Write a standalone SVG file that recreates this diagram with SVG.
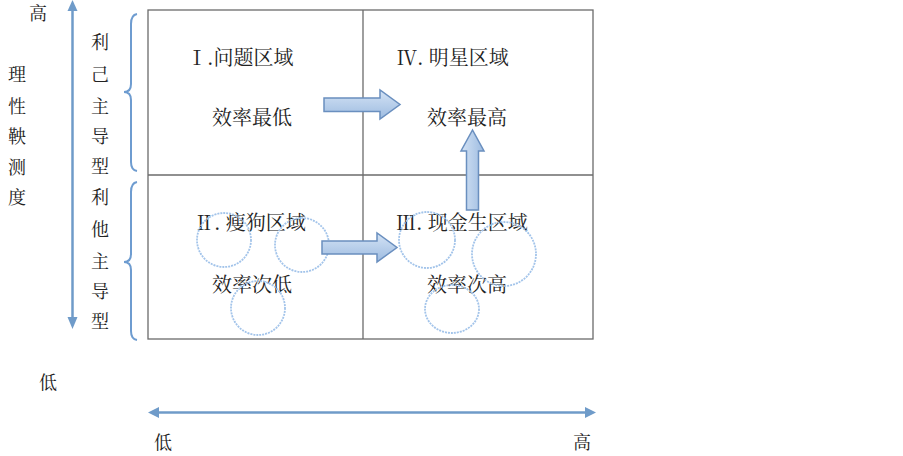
<svg xmlns="http://www.w3.org/2000/svg" width="903" height="456" viewBox="0 0 903 456">
  <style>
    .t { font-family: "Noto Serif CJK SC", "Noto Sans CJK SC", "Liberation Serif", serif; fill: #222; }
    .q { font-size: 20px; }
    .s { font-size: 18px; text-anchor: middle; }
    .grid { stroke: #6b6b6b; stroke-width: 1.3; fill: none; }
    .brace { stroke: #6e9cd0; stroke-width: 2; fill: none; }
    .axis { stroke: #6f9bc9; stroke-width: 2.5; fill: none; }
    .blk { fill: url(#g); stroke: #6a8fbf; stroke-width: 1.5; }
    .cir { fill: none; stroke: #a3c4ea; stroke-width: 1.8; stroke-dasharray: 2 1; }
  </style>
  <defs>
    <linearGradient id="g" x1="0" y1="0" x2="0" y2="1">
      <stop offset="0" stop-color="#d4e3f5"/>
      <stop offset="1" stop-color="#9dbbe0"/>
    </linearGradient>
    <linearGradient id="gv" x1="0" y1="0" x2="1" y2="0">
      <stop offset="0" stop-color="#d4e3f5"/>
      <stop offset="1" stop-color="#9dbbe0"/>
    </linearGradient>
  </defs>

  <g id="grid">
    <rect class="grid" x="148" y="10" width="445" height="329"/>
    <line class="grid" x1="363" y1="10" x2="363" y2="339"/>
    <line class="grid" x1="148" y1="175" x2="593" y2="175"/>
  </g>

  <g id="axes">
    <line class="axis" x1="72.5" y1="10" x2="72.5" y2="318"/>
    <polygon points="72.5,0 67.5,11 77.5,11" fill="#6f9bc9"/>
    <polygon points="72.5,329 67.5,317 77.5,317" fill="#6f9bc9"/>
    <line class="axis" x1="158" y1="412.5" x2="585" y2="412.5"/>
    <polygon points="148,412.5 159,407 159,418" fill="#6f9bc9"/>
    <polygon points="596,412.5 585,407 585,418" fill="#6f9bc9"/>
  </g>

  <g id="braces">
    <path class="brace" d="M137,14 Q131,15 131,24 L131,84 Q131,92 124,92 Q131,92 131,100 L131,162 Q131,170 137,171"/>
    <path class="brace" d="M137,182 Q131,183 131,192 L131,254 Q131,262 124,262 Q131,262 131,270 L131,331 Q131,339 137,340"/>
  </g>

  <g id="axis-labels">
    <text class="t s" x="38" y="20">高</text>
    <text class="t s" x="48" y="389">低</text>
    <text class="t s" x="163" y="449">低</text>
    <text class="t s" x="582" y="449">高</text>
    <text class="t s" x="17" y="81">理</text>
    <text class="t s" x="17" y="113">性</text>
    <text class="t s" x="17" y="143">鞅</text>
    <text class="t s" x="17" y="174">测</text>
    <text class="t s" x="17" y="204">度</text>
    <text class="t s" x="100" y="49">利</text>
    <text class="t s" x="100" y="81">己</text>
    <text class="t s" x="100" y="113">主</text>
    <text class="t s" x="100" y="143">导</text>
    <text class="t s" x="100" y="173">型</text>
    <text class="t s" x="100" y="204">利</text>
    <text class="t s" x="100" y="236">他</text>
    <text class="t s" x="100" y="268">主</text>
    <text class="t s" x="100" y="298">导</text>
    <text class="t s" x="100" y="328">型</text>
  </g>

  <g id="q1">
    <text class="t q" x="187" y="65">Ⅰ.问题区域</text>
    <text class="t q" x="212" y="125">效率最低</text>
  </g>
  <g id="q4">
    <text class="t q" x="397" y="65">Ⅳ. 明星区域</text>
    <text class="t q" x="427" y="125">效率最高</text>
  </g>
  <g id="q2">
    <text class="t q" x="194" y="230">Ⅱ. 瘦狗区域</text>
    <text class="t q" x="212" y="292">效率次低</text>
  </g>
  <g id="q3">
    <text class="t q" x="396" y="230">Ⅲ. 现金生区域</text>
    <text class="t q" x="427" y="292">效率次高</text>
  </g>

  <g id="circles">
    <circle class="cir" cx="224" cy="240" r="27"/>
    <circle class="cir" cx="302" cy="245" r="27"/>
    <circle class="cir" cx="258" cy="308" r="27"/>
    <circle class="cir" cx="427" cy="240" r="28"/>
    <circle class="cir" cx="504" cy="254" r="32"/>
    <ellipse class="cir" cx="452" cy="309" rx="27" ry="24"/>
  </g>

  <g id="connectors">
    <polygon class="blk" points="324,98 380,98 380,90 400,104.5 380,119 380,111.5 324,111.5"/>
    <polygon class="blk" points="322,241 377,241 377,233 397,247.5 377,262 377,254 322,254"/>
    <polygon class="blk" style="fill:url(#gv)" points="466.5,210 466.5,151 461,151 472.5,130 484,151 478.5,151 478.5,210"/>
  </g>
</svg>
